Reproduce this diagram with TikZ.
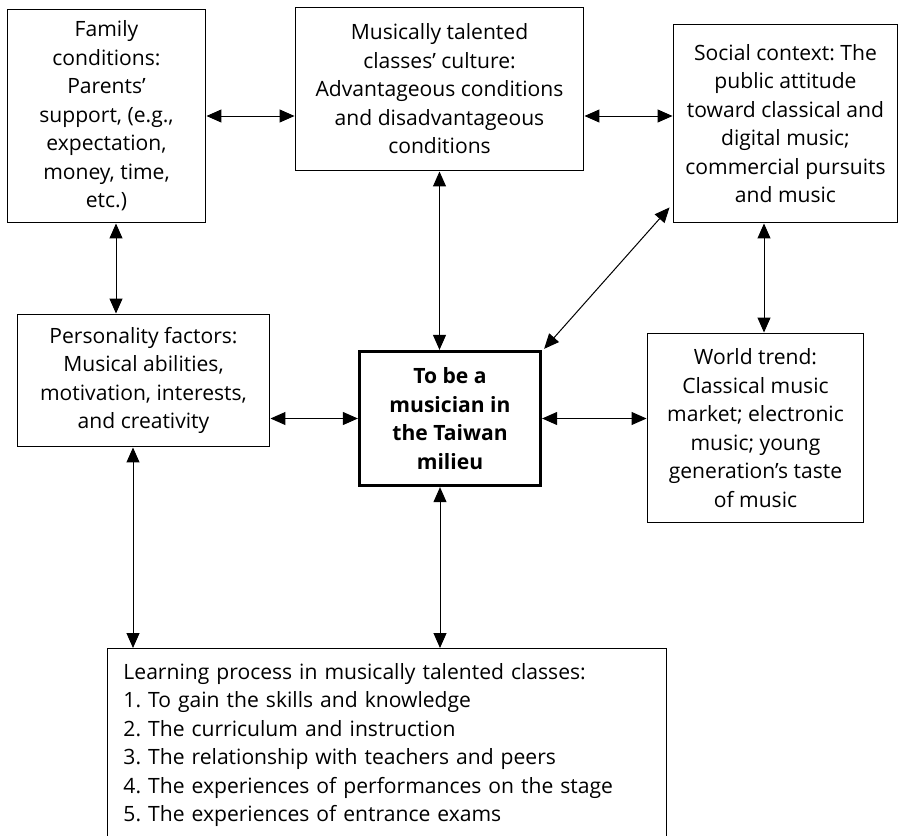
\documentclass[tikz,border=0pt]{standalone}
\usepackage{fontspec}
\setmainfont{Open Sans}
\usepackage{tikz}
\usetikzlibrary{shapes,arrows,arrows.meta,positioning}
\frenchspacing

\begin{document}
\begin{tikzpicture}[x=0.02cm, y=-0.02cm, font=\fontsize{12}{16.2}\selectfont]
    \tikzstyle{box} = [rectangle, draw=black, line width=0.02cm, align=center, inner sep=0pt]
    \tikzstyle{mainbox} = [rectangle, draw=black, line width=0.066cm, align=center, inner sep=0pt, font=\fontsize{12}{16.2}\selectfont\bfseries]
    \tikzstyle{listbox} = [rectangle, draw=black, line width=0.02cm, align=left, anchor=north west, text width=10.54cm, inner xsep=0.32cm, inner ysep=0.3cm, text depth=4cm]
    \tikzstyle{arrow} = [line width=0.02cm, <->, >={Triangle[length=0.3cm, width=0.26cm]}]

    \path [use as bounding box, clip] (0,0) rectangle (899,835);

    \node (family) [box, minimum width=3.98cm, minimum height=4.28cm] at (106.5,116) {Family\\conditions:\\Parents’\\support, (e.g.,\\expectation,\\money, time,\\etc.)};
    \node (culture) [box, minimum width=5.78cm, minimum height=3.28cm] at (439.5,89) {Musically talented\\classes’ culture:\\Advantageous conditions\\and disadvantageous\\conditions};
    \node (social) [box, minimum width=4.5cm, minimum height=3.98cm] at (785.5,123.5) {Social context: The\\public attitude\\toward classical and\\digital music;\\commercial pursuits\\and music};
    \node (personality) [box, minimum width=5.06cm, minimum height=2.66cm] at (143.5,380.5) {Personality factors:\\Musical abilities,\\motivation, interests,\\and creativity};
    \node (centre) [mainbox, minimum width=3.62cm, minimum height=2.68cm] at (450,418.5) {To be a\\musician in\\the Taiwan\\milieu};
    \node (world) [box, minimum width=4.34cm, minimum height=3.8cm] at (755.5,428) {World trend:\\Classical music\\market; electronic\\music; young\\generation’s taste\\of music};
    \node (learning) [listbox] at (107,648) {Learning process in musically talented classes:\\1. To gain the skills and knowledge\\2. The curriculum and instruction\\3. The relationship with teachers and peers\\4. The experiences of performances on the stage\\5. The experiences of entrance exams};

    \coordinate (fp) at ([shift={(9.5,0)}]family.south);
    \coordinate (sw) at ([shift={(-21.5,0)}]social.south);
    \coordinate (pl) at ([shift={(-10.5,0)}]personality.south);
    \coordinate (cl) at ([shift={(-10,0)}]centre.south);

    \draw [arrow] (family.east) -- (culture.west |- family.east);
    \draw [arrow] (culture.east |- family.east) -- (social.west |- family.east);
    \draw [arrow] (fp) -- (fp |- personality.north);
    \draw [arrow] (culture.south) -- (culture.south |- centre.north);
    \draw [arrow] (sw) -- (sw |- world.north);
    \draw [arrow] ([shift={(-3,-16)}]social.south west) -- ([shift={(2,-1)}]centre.north east);
    \draw [arrow] (centre.west -| personality.east) -- (centre.west);
    \draw [arrow] (centre.east) -- (centre.east -| world.west);
    \draw [arrow] (pl) -- (pl |- learning.north);
    \draw [arrow] (cl) -- (cl |- learning.north);
\end{tikzpicture}
\end{document}
